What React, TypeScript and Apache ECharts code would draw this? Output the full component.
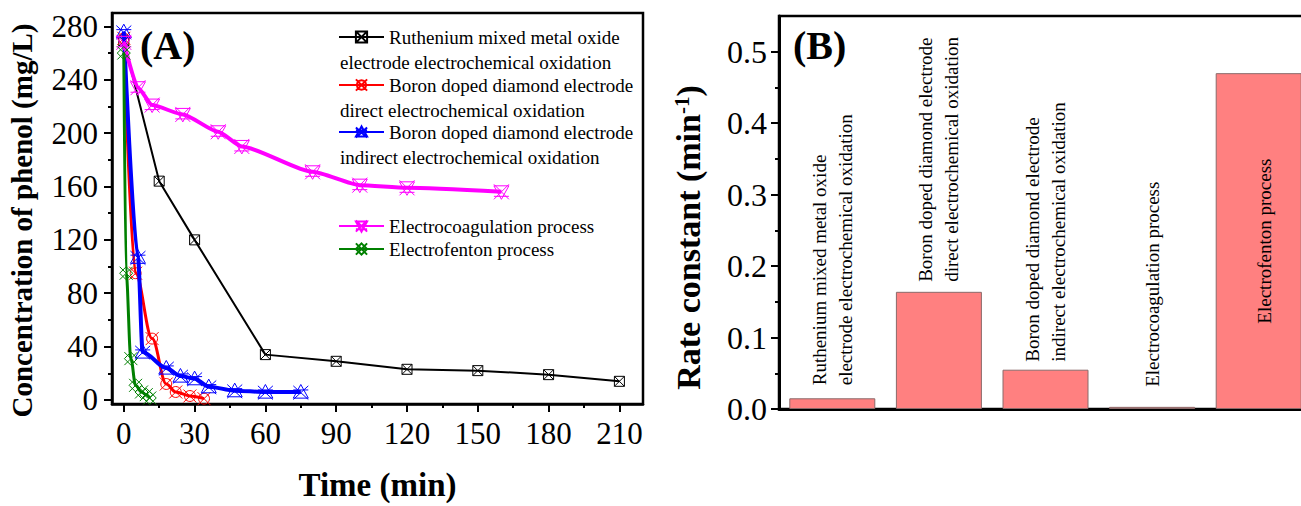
import React, { useEffect, useRef } from "react";
import * as echarts from "echarts";

const SERIF = "'Liberation Serif', 'Times New Roman', serif";

// ---------- Panel A data ----------
const legendFirst = [
  "Ruthenium mixed metal oxide",
  "Boron doped diamond electrode",
  "Boron doped diamond electrode",
  "Electrocoagulation process",
  "Electrofenton process",
];
const legendSecond = [
  "electrode electrochemical oxidation",
  "direct electrochemical oxidation",
  "indirect electrochemical oxidation",
  "",
  "",
];

const ruTime = [0, 15, 30, 60, 90, 120, 150, 180, 210];
const ruConc = [269, 164, 120, 34, 29, 23, 22, 19, 14];

const bddDirectTime = [0, 5, 12, 18, 22, 28, 34];
const bddDirectConc = [271, 95, 46, 12, 6, 3, 1];

const bddIndirectTime = [0, 6, 8, 18, 24, 30, 36, 47, 60, 75];
const bddIndirectConc = [276, 107, 36, 24, 18, 16, 10, 7, 6, 6];

const ecTime = [0, 6, 12, 25, 40, 50, 80, 100, 120, 160];
const ecConc = [268, 234, 221, 214, 201, 190, 171, 161, 159, 156];

const efTime = [0, 1, 3, 5, 7.5, 9.5, 11];
const efConc = [260, 95, 31, 11, 6, 4, 1.5];

const timeTicks = [0, 30, 60, 90, 120, 150, 180, 210];
const timeMinorTicks = [15, 45, 75, 105, 135, 165, 195];
const concTicks = [0, 40, 80, 120, 160, 200, 240, 280];
const concMinorTicks = [20, 60, 100, 140, 180, 220, 260];

// ---------- Panel B data ----------
const processLabels = [
  "Ruthenium mixed metal oxide\nelectrode electrochemical oxidation",
  "Boron doped diamond electrode\ndirect electrochemical oxidation",
  "Boron doped diamond electrode\nindirect electrochemical oxidation",
  "Electrocoagulation process",
  "Electrofenton process",
];
const rateConstants = [0.015, 0.164, 0.055, 0.003, 0.47];
const rateTicks = [0, 0.1, 0.2, 0.3, 0.4, 0.5];
const rateMinorTicks = [0.05, 0.15, 0.25, 0.35, 0.45];

// ---------- symbols ----------
const SYM_SQUARE_X = "path://M0 0L10 0L10 10L0 10Z M0 0L10 10 M10 0L0 10";
const SYM_CIRCLE_X =
  "path://M5 0.8A4.2 4.2 0 1 1 4.99 0.8Z M0 0L10 10 M10 0L0 10";
const SYM_X_TRI_UP = "path://M0 0L10 10 M10 0L0 10 M0 3L10 3 M5 -1L0 9L10 9Z";
const SYM_X_TRI_DOWN = "path://M0 0L10 10 M10 0L0 10 M0 1L10 1L5 10Z M0 8L10 8";
const SYM_X_DIAMOND = "path://M0 0L10 10 M10 0L0 10 M5 0L10 5L5 10L0 5Z";

const zip = (a: number[], b: number[]) => a.map((v, i) => [v, b[i]]);

export default function App() {
  const ref = useRef<HTMLDivElement>(null);

  useEffect(() => {
    if (!ref.current) return;
    const chart = echarts.init(ref.current, undefined, { renderer: "svg" });

    const seriesNames = legendFirst.map((f, i) =>
      legendSecond[i] ? f + " " + legendSecond[i] : f
    );

    const lineSpecs = [
      { t: ruTime, c: ruConc, color: "#000000", width: 2, sym: SYM_SQUARE_X, size: 10, smooth: 0 },
      { t: bddDirectTime, c: bddDirectConc, color: "#FF0000", width: 3, sym: SYM_CIRCLE_X, size: 13, smooth: 0.35 },
      { t: bddIndirectTime, c: bddIndirectConc, color: "#0000FF", width: 4, sym: SYM_X_TRI_UP, size: 15, smooth: 0.3 },
      { t: ecTime, c: ecConc, color: "#FF00FF", width: 4, sym: SYM_X_TRI_DOWN, size: 15, smooth: 0.2 },
      { t: efTime, c: efConc, color: "#008000", width: 3, sym: SYM_X_DIAMOND, size: 13, smooth: 0.35 },
    ];

    const lineSeries = lineSpecs.map((s, i) => ({
      name: seriesNames[i],
      type: "line",
      xAxisIndex: 0,
      yAxisIndex: 0,
      data: zip(s.t, s.c),
      smooth: s.smooth,
      smoothMonotone: "x",
      symbol: s.sym,
      symbolSize: s.size,
      showAllSymbol: true,
      lineStyle: { color: s.color, width: s.width },
      itemStyle: { color: "rgba(0,0,0,0)", borderColor: s.color, borderWidth: 1 },
      z: 2 + i,
    }));

    const rowCenters = [37, 85, 132, 226, 249];
    const legends = legendFirst.map((txt, i) => ({
      data: [seriesNames[i]],
      left: 338,
      top: rowCenters[i] - 11,
      padding: 0,
      itemWidth: 45,
      itemHeight: 14,
      selectedMode: false,
      formatter: () => txt,
      textStyle: { fontFamily: SERIF, fontSize: 19, color: "#000", lineHeight: 22 },
    }));

    const secondLineGraphics = legendSecond
      .map((txt, i) => ({ txt, y: rowCenters[i] + 25 }))
      .filter((d) => d.txt)
      .map((d) => ({
        type: "text",
        x: 340,
        y: d.y,
        style: {
          text: d.txt,
          font: `19px ${SERIF}`,
          fill: "#000",
          align: "left",
          verticalAlign: "middle",
        },
      }));

    const axisLine = { show: true, onZero: false, lineStyle: { color: "#000", width: 2.5 } };
    const majorTick = (vals: number[]) => ({
      show: true,
      inside: false,
      length: 8,
      customValues: vals,
      lineStyle: { color: "#000", width: 2 },
    });
    const minorTick = (vals: number[]) => ({
      show: true,
      inside: false,
      length: 4,
      customValues: vals,
      lineStyle: { color: "#000", width: 2 },
    });
    const tickLabel = (vals: number[], fmt?: (v: number) => string) => ({
      show: true,
      customValues: vals,
      fontFamily: SERIF,
      fontSize: 31,
      color: "#000",
      margin: 14,
      formatter: fmt,
    });

    const labelGap = [13, 10, 8, 20, 0];
    const barData = rateConstants.map((v, i) => {
      const inside = i === rateConstants.length - 1;
      return {
        value: v,
        label: inside
          ? {
              show: true,
              position: "inside",
              rotate: 90,
              align: "center",
              verticalAlign: "middle",
              offset: [0, 6],
            }
          : {
              show: true,
              position: "top",
              rotate: 90,
              align: "left",
              verticalAlign: "middle",
              distance: labelGap[i],
            },
      };
    });

    const option: any = {
      animation: false,
      backgroundColor: "#fff",
      grid: [
        { left: 112, top: 13, width: 531, height: 391, show: true, borderColor: "#000", borderWidth: 2.5, containLabel: false, outerBoundsMode: "none" },
        { left: 779, top: 16, width: 533, height: 393, show: true, borderColor: "#000", borderWidth: 2.5, containLabel: false, outerBoundsMode: "none" },
      ],
      xAxis: [
        {
          type: "value",
          gridIndex: 0,
          min: -5,
          max: 220,
          position: "bottom",
          axisLine,
          axisTick: majorTick(timeTicks),
          axisLabel: tickLabel(timeTicks),
          splitLine: { show: false },
          name: "Time (min)",
          nameLocation: "middle",
          nameGap: 64,
          nameTextStyle: { fontFamily: SERIF, fontSize: 33, fontWeight: "bold", color: "#000" },
        },
        {
          type: "value",
          gridIndex: 0,
          min: -5,
          max: 220,
          position: "bottom",
          axisLine: { show: false, onZero: false },
          axisTick: minorTick(timeMinorTicks),
          axisLabel: { show: false },
          splitLine: { show: false },
        },
        {
          type: "category",
          gridIndex: 1,
          data: processLabels,
          position: "bottom",
          axisLine: { show: true, onZero: false, lineStyle: { color: "#000", width: 3 } },
          axisTick: { show: false },
          axisLabel: { show: false },
          splitLine: { show: false },
        },
      ],
      yAxis: [
        {
          type: "value",
          gridIndex: 0,
          min: -3,
          max: 290,
          position: "left",
          axisLine,
          axisTick: majorTick(concTicks),
          axisLabel: tickLabel(concTicks),
          splitLine: { show: false },
          name: "Concentration of phenol (mg/L)",
          nameLocation: "middle",
          nameGap: 76,
          nameTextStyle: {
            fontFamily: SERIF,
            fontSize: 29,
            fontWeight: "bold",
            color: "#000",
            padding: [0, 24, 0, 0],
          },
        },
        {
          type: "value",
          gridIndex: 0,
          min: -3,
          max: 290,
          position: "left",
          axisLine: { show: false, onZero: false },
          axisTick: minorTick(concMinorTicks),
          axisLabel: { show: false },
          splitLine: { show: false },
        },
        {
          type: "value",
          gridIndex: 1,
          min: 0,
          max: 0.55,
          position: "left",
          axisLine: { show: true, onZero: false, lineStyle: { color: "#000", width: 3 } },
          axisTick: majorTick(rateTicks),
          axisLabel: { ...tickLabel(rateTicks, (v: number) => v.toFixed(1)), fontSize: 32, margin: 12 },
          splitLine: { show: false },
          name: "Rate constant (min{sup|-1})",
          nameLocation: "middle",
          nameGap: 74,
          nameTextStyle: {
            fontFamily: SERIF,
            fontSize: 34,
            fontWeight: "bold",
            color: "#000",
            padding: [0, 50, 0, 0],
            rich: {
              sup: { fontFamily: SERIF, fontSize: 21, fontWeight: "bold", color: "#000", verticalAlign: "top" },
            },
          },
        },
        {
          type: "value",
          gridIndex: 1,
          min: 0,
          max: 0.55,
          position: "left",
          axisLine: { show: false, onZero: false },
          axisTick: minorTick(rateMinorTicks),
          axisLabel: { show: false },
          splitLine: { show: false },
        },
      ],
      legend: legends,
      series: [
        ...lineSeries,
        {
          type: "bar",
          xAxisIndex: 2,
          yAxisIndex: 2,
          data: barData,
          barWidth: 86,
          itemStyle: { color: "#FF8080", borderColor: "#8a6a6a", borderWidth: 1 },
          label: {
            formatter: (p: any) => processLabels[p.dataIndex],
            fontFamily: SERIF,
            fontSize: 19,
            lineHeight: 26,
            color: "#000",
          },
        },
      ],
      graphic: [
        {
          type: "text",
          x: 140,
          y: 45,
          style: { text: "(A)", font: `bold 40px ${SERIF}`, fill: "#000", align: "left", verticalAlign: "middle" },
        },
        {
          type: "text",
          x: 793,
          y: 45,
          style: { text: "(B)", font: `bold 40px ${SERIF}`, fill: "#000", align: "left", verticalAlign: "middle" },
        },
        ...secondLineGraphics,
      ],
    };

    chart.setOption(option);
    return () => chart.dispose();
  }, []);

  return (
    <div
      ref={ref}
      style={{ position: "fixed", left: 0, top: 0, width: 1301, height: 506, background: "#fff" }}
    />
  );
}
